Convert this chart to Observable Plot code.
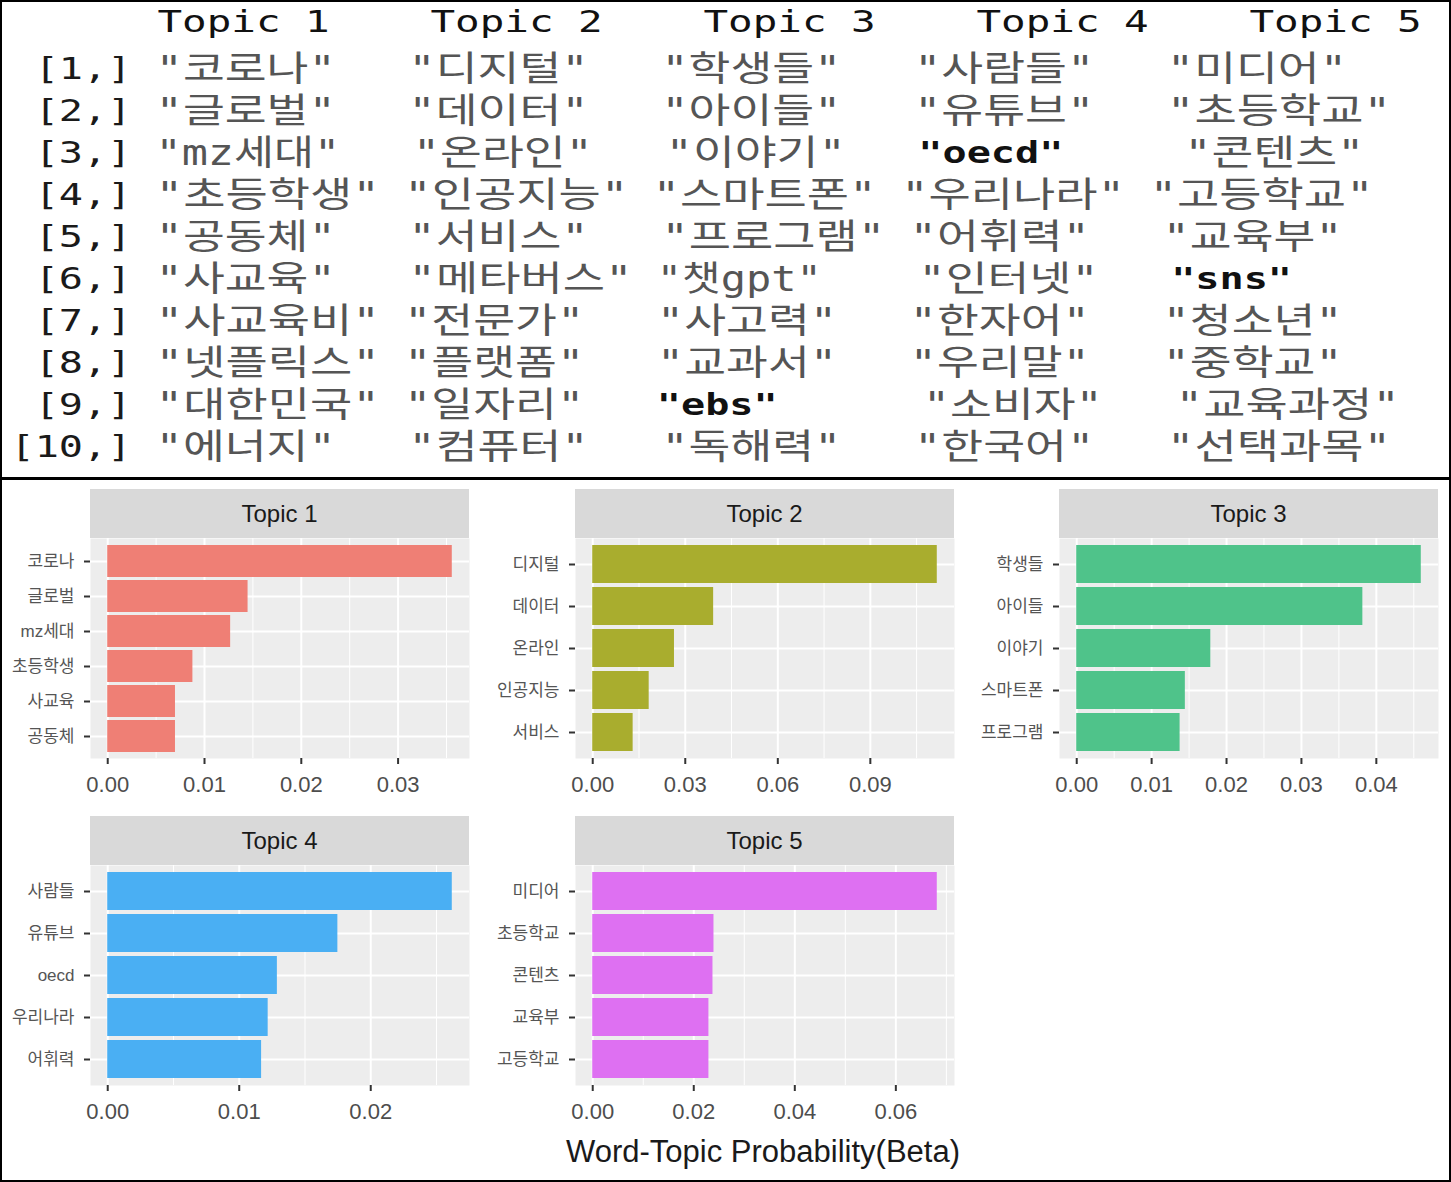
<!DOCTYPE html>
<html>
<head>
<meta charset="utf-8">
<script src="https://cdn.jsdelivr.net/npm/d3@7"></script>
<script src="https://cdn.jsdelivr.net/npm/@observablehq/plot@0.6"></script>
<style>
  body { margin: 0; background: #fff; }
  #root { position: relative; width: 1451px; height: 1182px; overflow: hidden; background: #fff; }
  .abs { position: absolute; }
  .strip { position: absolute; background: #d9d9d9; color: #1a1a1a; display: flex; align-items: center; justify-content: center;
           font-family: 'Liberation Sans', Arial, sans-serif; font-size: 24px; }
</style>
</head>
<body>
<div id="root"></div>
<script>
// ---------- Table data (R console output) ----------
const topicHeaders = ["Topic 1", "Topic 2", "Topic 3", "Topic 4", "Topic 5"];
const rowLabels = ["[1,]", "[2,]", "[3,]", "[4,]", "[5,]", "[6,]", "[7,]", "[8,]", "[9,]", "[10,]"];
const topic1Terms = ["코로나", "글로벌", "mz세대", "초등학생", "공동체", "사교육", "사교육비", "넷플릭스", "대한민국", "에너지"];
const topic2Terms = ["디지털", "데이터", "온라인", "인공지능", "서비스", "메타버스", "전문가", "플랫폼", "일자리", "컴퓨터"];
const topic3Terms = ["학생들", "아이들", "이야기", "스마트폰", "프로그램", "챗gpt", "사고력", "교과서", "ebs", "독해력"];
const topic4Terms = ["사람들", "유튜브", "oecd", "우리나라", "어휘력", "인터넷", "한자어", "우리말", "소비자", "한국어"];
const topic5Terms = ["미디어", "초등학교", "콘텐츠", "고등학교", "교육부", "sns", "청소년", "중학교", "교육과정", "선택과목"];

// ---------- Bar chart data ----------
const topic1Words = ["코로나", "글로벌", "mz세대", "초등학생", "사교육", "공동체"];
const topic1Beta  = [0.0356, 0.0145, 0.0127, 0.0088, 0.0070, 0.0070];
const topic2Words = ["디지털", "데이터", "온라인", "인공지능", "서비스"];
const topic2Beta  = [0.1117, 0.0392, 0.0265, 0.0183, 0.0131];
const topic3Words = ["학생들", "아이들", "이야기", "스마트폰", "프로그램"];
const topic3Beta  = [0.0460, 0.0382, 0.0179, 0.0145, 0.0138];
const topic4Words = ["사람들", "유튜브", "oecd", "우리나라", "어휘력"];
const topic4Beta  = [0.0262, 0.0175, 0.0129, 0.0122, 0.0117];
const topic5Words = ["미디어", "초등학교", "콘텐츠", "교육부", "고등학교"];
const topic5Beta  = [0.0682, 0.0240, 0.0238, 0.0230, 0.0230];

const topic1Ticks = [0, 0.01, 0.02, 0.03];
const topic2Ticks = [0, 0.03, 0.06, 0.09];
const topic3Ticks = [0, 0.01, 0.02, 0.03, 0.04];
const topic4Ticks = [0, 0.01, 0.02];
const topic5Ticks = [0, 0.02, 0.04, 0.06];

const topicColors = ["#ef7f75", "#a9ad2e", "#4fc38a", "#4aaff3", "#de70f2"];
const xTitle = "Word-Topic Probability(Beta)";

// ---------- helpers ----------
const root = document.getElementById("root");
const MONO = "'DejaVu Sans Mono', 'Noto Sans CJK KR', monospace";
const SANS = "'Liberation Sans', Arial, 'Noto Sans CJK KR', sans-serif";
const isKo = ch => /[\uac00-\ud7a3]/.test(ch);
const rWidth = s => [...s].reduce((a, ch) => a + (isKo(ch) ? 2 : 1), 0);     // R's display width
const KO = 1.82;                                                              // rendered width of a Hangul glyph, in mono cells
const rendW = s => [...s].reduce((a, ch) => a + (isKo(ch) ? KO : 1), 0);
const U = 24.17;   // px per mono cell in the body
const HU = 24.6;   // px per mono cell in the header

function addDiv(cls, css, text) {
  const d = document.createElement("div");
  d.className = cls;
  Object.assign(d.style, css);
  if (text != null) d.textContent = text;
  root.appendChild(d);
  return d;
}

// ---------- table body ----------
const termCols = [topic1Terms, topic2Terms, topic3Terms, topic4Terms, topic5Terms];
const labelW = d3.max(rowLabels, rWidth);
const colW = termCols.map((col, c) => Math.max(rWidth(topicHeaders[c]), d3.max(col, t => rWidth(`"${t}"`))));
const cells = [];
rowLabels.forEach((row, r) => {
  let off = labelW + 1;
  termCols.forEach((col, c) => {
    const q = `"${col[r]}"`;
    cells.push({row, text: q, x: off, len: rendW(q), ascii: !/[\uac00-\ud7a3]/.test(q)});
    off += rendW(q) + (colW[c] - rWidth(q) + 1);
  });
});
const labelCells = rowLabels.map(row => ({row, text: row, x: labelW, len: row.length}));
const koCells = cells.filter(d => !d.ascii);
const asciiCells = cells.filter(d => d.ascii);

const tableBody = Plot.plot({
  width: 1451, height: 478,
  style: {background: "transparent", fontFamily: MONO},
  x: {type: "linear", domain: [0, 60], range: [10, 10 + 60 * U], axis: null},
  y: {type: "point", domain: rowLabels, range: [65, 450], padding: 0, axis: null},
  marks: [
    Plot.text(labelCells, {x: "x", y: "row", text: "text", textAnchor: "end", fontSize: 31, fill: "#1a1a1a"}),
    Plot.text(koCells, {x: "x", y: "row", text: "text", textAnchor: "start", fontSize: 35, fill: "#555"}),
    Plot.text(asciiCells, {x: "x", y: "row", text: "text", textAnchor: "start", fontSize: 31, fill: "#111", fontWeight: "bold"})
  ]
});
{
  const groups = tableBody.querySelectorAll('g[aria-label="text"]');
  [labelCells, koCells, asciiCells].forEach((data, gi) => {
    groups[gi].querySelectorAll("text").forEach((t, i) => {
      t.setAttribute("textLength", data[i].len * U);
      t.setAttribute("lengthAdjust", "spacingAndGlyphs");
    });
  });
}
tableBody.style.position = "absolute"; tableBody.style.left = "0px"; tableBody.style.top = "0px";
root.appendChild(tableBody);

// ---------- table header ----------
const headerData = topicHeaders.map(h => ({h}));
const tableHead = Plot.plot({
  width: 1451, height: 44,
  style: {background: "transparent", fontFamily: MONO},
  x: {type: "point", domain: topicHeaders, range: [155, 155 + 4 * 11 * 24.9], padding: 0, axis: null},
  y: {axis: null},
  marks: [
    Plot.text(headerData, {x: "h", frameAnchor: "middle", text: "h", textAnchor: "start", fontSize: 31, fill: "#111"})
  ]
});
tableHead.querySelectorAll('g[aria-label="text"] text').forEach(t => {
  t.setAttribute("textLength", 7 * HU);
  t.setAttribute("lengthAdjust", "spacingAndGlyphs");
});
tableHead.style.position = "absolute"; tableHead.style.left = "0px"; tableHead.style.top = "0px";
root.appendChild(tableHead);

// separator & border
addDiv("abs", {left: "0px", top: "477px", width: "1451px", height: "3px", background: "#000"});
addDiv("abs", {left: "0px", top: "0px", width: "1451px", height: "1182px", boxSizing: "border-box", border: "2px solid #000"});

// ---------- facet panels ----------
function drawPanel(title, words, beta, ticks, color, left, top) {
  const STRIP = 49, PW = 379, PH = 220, ML = 92, MR = 6, MB = 50;
  addDiv("strip", {left: left + "px", top: top + "px", width: PW + "px", height: STRIP + "px"}, title);
  const M = d3.max(beta), lo = -0.05 * M, hi = 1.05 * M;
  const step = ticks[1] - ticks[0];
  const minor = d3.range(ticks[0] - step / 2, hi, step).filter(v => v > lo);
  const rows = words.map((w, i) => ({word: w, beta: beta[i]}));
  const chart = Plot.plot({
    width: ML + PW + MR, height: PH + MB,
    marginLeft: ML, marginRight: MR, marginTop: 0, marginBottom: MB,
    style: {background: "transparent", fontFamily: SANS, overflow: "visible"},
    x: {domain: [lo, hi]},
    y: {domain: words, paddingInner: 0.1, paddingOuter: 0.15},
    marks: [
      Plot.frame({fill: "#ededed", stroke: "none"}),
      Plot.gridX(minor, {stroke: "#fff", strokeOpacity: 1, strokeWidth: 1}),
      Plot.gridX(ticks, {stroke: "#fff", strokeOpacity: 1, strokeWidth: 2}),
      Plot.gridY({stroke: "#fff", strokeOpacity: 1, strokeWidth: 2}),
      Plot.barX(rows, {x: "beta", y: "word", fill: color}),
      Plot.axisX(ticks, {tickFormat: d3.format(".2f"), tickSize: 6, tickPadding: 12, fontSize: 22,
                         stroke: "#333", strokeWidth: 2, fill: "#4d4d4d", label: null}),
      Plot.axisY({tickSize: 6, tickPadding: 10, fontSize: 17, stroke: "#333", strokeWidth: 2, fill: "#555", label: null})
    ]
  });
  chart.style.position = "absolute";
  chart.style.left = (left - ML) + "px";
  chart.style.top = (top + STRIP) + "px";
  root.appendChild(chart);
}

drawPanel(topicHeaders[0], topic1Words, topic1Beta, topic1Ticks, topicColors[0], 90, 489);
drawPanel(topicHeaders[1], topic2Words, topic2Beta, topic2Ticks, topicColors[1], 575, 489);
drawPanel(topicHeaders[2], topic3Words, topic3Beta, topic3Ticks, topicColors[2], 1059, 489);
drawPanel(topicHeaders[3], topic4Words, topic4Beta, topic4Ticks, topicColors[3], 90, 816);
drawPanel(topicHeaders[4], topic5Words, topic5Beta, topic5Ticks, topicColors[4], 575, 816);

addDiv("abs", {left: "463px", width: "600px", top: "1133px", textAlign: "center", fontFamily: SANS,
               fontSize: "31px", color: "#1a1a1a", lineHeight: "38px"}, xTitle);
</script>
</body>
</html>
